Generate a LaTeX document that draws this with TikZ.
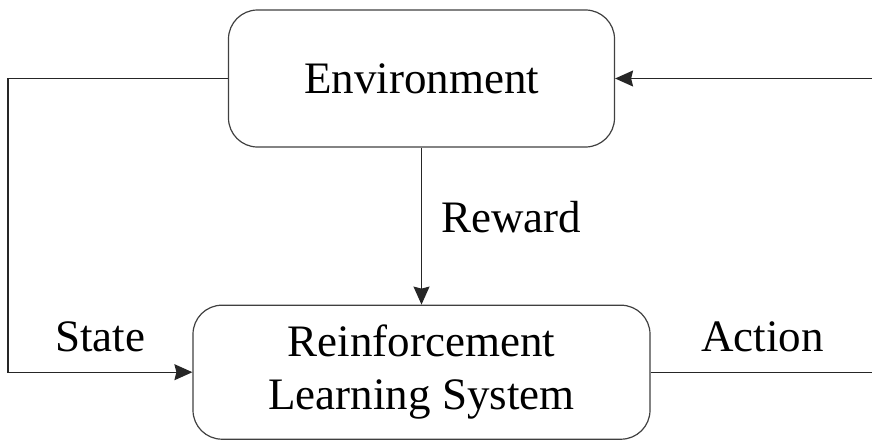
\documentclass[tikz,border=0pt]{standalone}
\usepackage{fontspec}
\setmainfont{Liberation Serif}
\usetikzlibrary{arrows.meta,positioning}
\tikzset{%
  >={Stealth[length=9pt,width=8pt,inset=1pt]},
  % boxes and the words on the arrows
     block/.style = {rectangle, rounded corners=14.5pt, draw=black!75,
                     line width=0.6pt, align=center,
                     font=\fontsize{22.5}{26.5}\selectfont},
    signal/.style = {inner sep=0pt, font=\fontsize{22.5}{26.5}\selectfont},
      flow/.style = {->, draw=black!85, line width=0.65pt},
}

\begin{document}
\begin{tikzpicture}[x=0.5pt, y=-0.5pt]
  \clip (0,0) rectangle (872,439);

  \node (env) [block, minimum width=193pt, minimum height=68.5pt]
        at (421.5,78.5) {Environment};
  \node (rl)  [block, minimum width=228.5pt, minimum height=67pt,
               below=78.5pt of env] {Reinforcement\\Learning System};

  \draw[flow] (env) -- node [signal, right=9.5pt, pos=0.44] {Reward} (rl);
  \draw[flow] (env.west) -- ++(-220,0)
      |- node [signal, pos=0.75, above=10pt] {State} (rl.west);
  \draw[flow] (rl.east)
      -- node [signal, above=10pt] {Action} ++(224,0)
      |- (env.east);
\end{tikzpicture}
\end{document}
